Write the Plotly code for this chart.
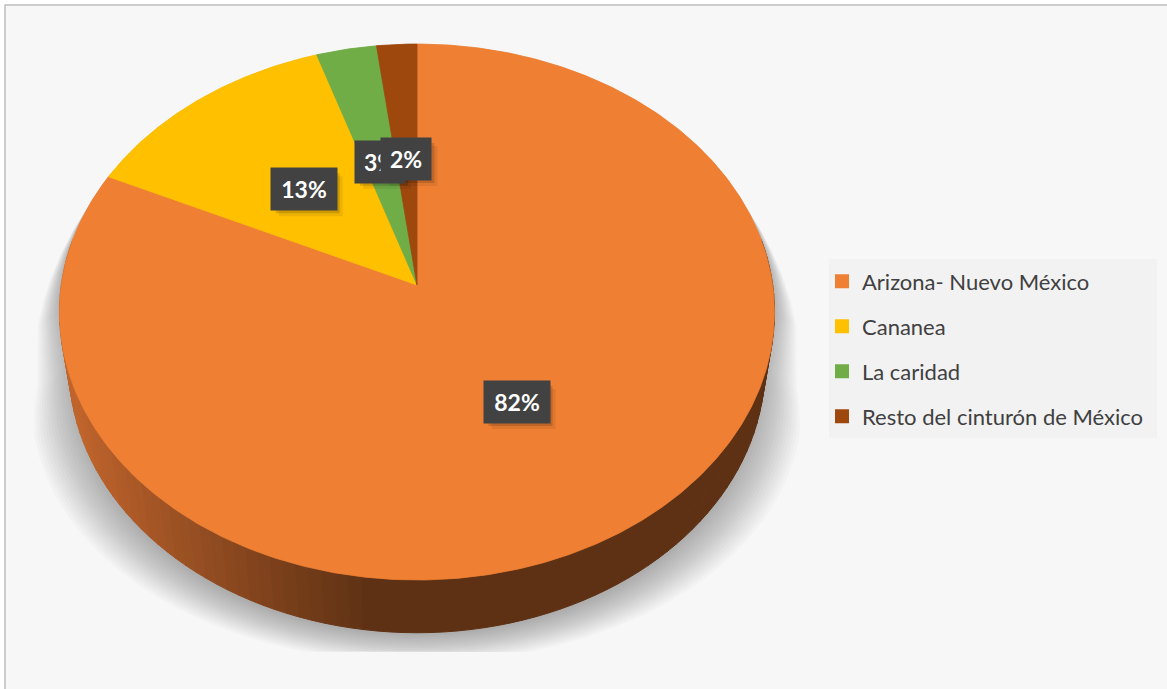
import numpy as np
import plotly.graph_objects as go

# ---- data ----
categories = ["Arizona- Nuevo México", "Cananea", "La caridad", "Resto del cinturón de México"]
shares = [82, 13, 3, 2]
colors = ["#EF7F32", "#FFC000", "#70AD47", "#9E480E"]

# ---- canvas (axes in pixel units) ----
W, H = 1167, 689

# perspective camera for the 3-D pie
CX, CY = 417.0, 285.0          # projected pie centre
SIN_E, COS_E = 0.7458, 0.6661  # elevation of the view
DIST, FOCAL = 6.61, 2351.0
THICK = 0.24                   # wall height relative to radius


def project(theta_deg, r=1.0, height=0.0):
    """Project a point on the pie (angle clockwise from 12 o'clock) to the canvas."""
    th = np.radians(theta_deg)
    X = r * np.sin(th)
    Z = r * np.cos(th)
    v = Z * SIN_E + height * COS_E
    w = DIST + Z * COS_E - height * SIN_E
    return CX + FOCAL * X / w, CY - FOCAL * v / w


fig = go.Figure()

# ---- soft drop shadow under the pie (stacked translucent layers) ----
th_back = np.linspace(-96, 96, 200)
th_front = np.linspace(96, 264, 200)
bx, by = project(th_back, 1.0, 0.0)
fx, fy = project(th_front, 1.0, -THICK)
sil_x = np.concatenate([bx, fx])
sil_y = np.concatenate([by, fy])
g = np.clip((sil_y - 205) / (640 - 205), 0, 1)
base_x = CX + (sil_x - CX) * (1 + 0.09 * g)
base_y = sil_y + 14 * g
gg = np.clip((base_y - 200) / 220, 0, 1)
for d in np.arange(-18, 30, 3):
    lx = CX + (base_x - CX) * (1 + d * gg / 380.0)
    ly = np.clip(base_y + d * 0.6 * gg, None, 652)
    fig.add_trace(go.Scatter(
        x=np.append(lx, lx[0]), y=np.append(ly, ly[0]), mode="lines",
        fill="toself", fillcolor="rgba(0,0,0,0.019)", line=dict(width=0),
        hoverinfo="skip", showlegend=False))

# ---- outer wall, shaded from the left ----
dark = np.array([94, 49, 20])
light = np.array([192, 100, 44])
edges = np.linspace(80, 280, 101)
order = np.argsort(-np.cos(np.radians((edges[:-1] + edges[1:]) / 2)))
for k in order:
    a0, a1 = edges[k], edges[k + 1]
    mid = np.radians((a0 + a1) / 2)
    t = np.clip((-np.sin(mid) - 0.12) / 0.8, 0, 1)
    col = dark + (light - dark) * t
    c = "rgb(%d,%d,%d)" % tuple(col.round().astype(int))
    arc = np.linspace(a0, a1, 4)
    tx, ty = project(arc, 1.0, 0.0)
    lx, ly = project(arc[::-1], 1.0, -THICK)
    xs = np.concatenate([tx, lx, tx[:1]])
    ys = np.concatenate([ty, ly, ty[:1]])
    fig.add_trace(go.Scatter(
        x=xs, y=ys, mode="lines", fill="toself", fillcolor=c,
        line=dict(color=c, width=1), hoverinfo="skip", showlegend=False))

# ---- top faces of the slices ----
total = float(sum(shares))
start = 0.0
mids = []
for name, val, col in zip(categories, shares, colors):
    span = 360.0 * val / total
    arc = np.linspace(start, start + span, max(int(span * 2), 6))
    ax_, ay_ = project(arc)
    xs = np.concatenate([[CX], ax_, [CX]])
    ys = np.concatenate([[CY], ay_, [CY]])
    fig.add_trace(go.Scatter(
        x=xs, y=ys, mode="lines", fill="toself", fillcolor=col,
        line=dict(color=col, width=0.8), name=name,
        hoverinfo="name", showlegend=False))
    mids.append(start + span / 2)
    start += span

# ---- legend entries ----
for i, (name, col) in enumerate(zip(categories, colors)):
    fig.add_trace(go.Scatter(
        x=[None], y=[None], mode="markers", name=name, legendgroup=str(i),
        marker=dict(symbol="square", size=14, color=col)))

shapes = [
    # chart area with its border
    dict(type="rect", xref="x", yref="y", x0=5, y0=5, x1=W + 10, y1=H + 10,
         fillcolor="#F7F7F7", line=dict(color="#BFBFBF", width=1.5), layer="below"),
    # legend panel
    dict(type="rect", xref="x", yref="y", x0=829, y0=259, x1=1157, y1=438,
         fillcolor="#F2F2F2", line=dict(width=0), layer="below"),
]

# ---- data labels (dark boxes with a soft offset shadow) ----
annotations = []
BOX_H = 40
for val, m in zip(shares, mids):
    lx, ly = project(m, 0.5, 0.0)
    lx, ly = float(lx), float(ly)
    txt = "%d%%" % val
    bw = 16 + 16 * len(txt)
    for off, alpha in ((7, 0.07), (4, 0.14)):
        shapes.append(dict(
            type="rect", xref="x", yref="y", layer="above",
            x0=lx - bw / 2 + off, x1=lx + bw / 2 + off,
            y0=ly - BOX_H / 2 + off, y1=ly + BOX_H / 2 + off,
            fillcolor="rgba(0,0,0,%.2f)" % alpha, line=dict(width=0)))
    annotations.append(dict(
        x=lx, y=ly, xref="x", yref="y", showarrow=False,
        text="<b>%s</b>" % txt, font=dict(family="Lato", size=23, color="white"),
        bgcolor="#424242", width=bw, height=BOX_H,
        xanchor="center", yanchor="middle"))

fig.update_layout(
    width=W, height=H,
    margin=dict(l=0, r=0, t=0, b=0),
    paper_bgcolor="white", plot_bgcolor="rgba(0,0,0,0)",
    xaxis=dict(range=[0, W], visible=False, fixedrange=True),
    yaxis=dict(range=[H, 0], visible=False, fixedrange=True),
    shapes=shapes,
    annotations=annotations,
    showlegend=True,
    legend=dict(
        x=822 / W, y=1 - 260.5 / H, xanchor="left", yanchor="top",
        bgcolor="rgba(0,0,0,0)", font=dict(family="Lato", size=22, color="#404040"),
        tracegroupgap=13.4, itemclick=False, itemdoubleclick=False),
)

fig.write_html("out.html")
